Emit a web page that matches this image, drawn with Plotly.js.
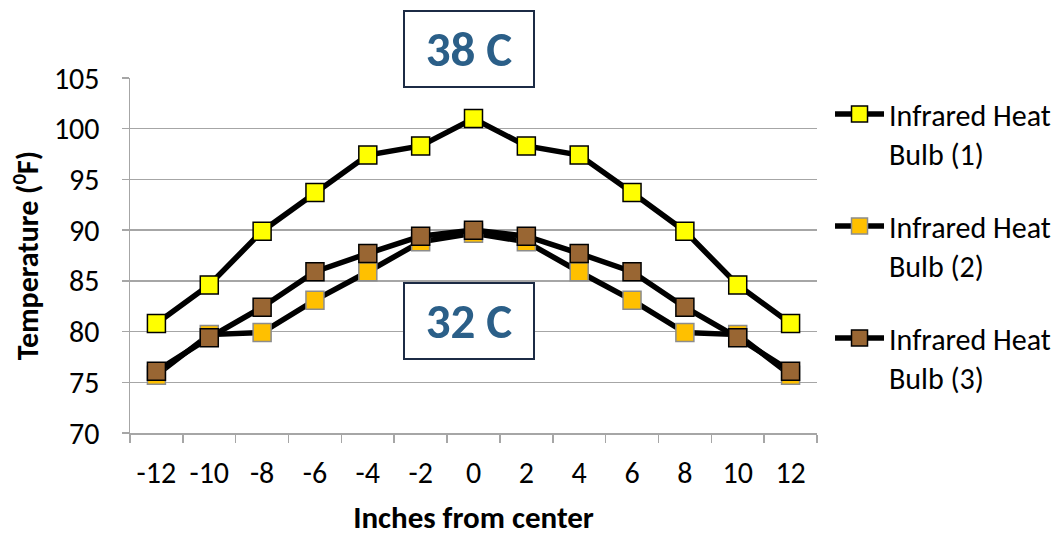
<!DOCTYPE html>
<html>
<head>
<meta charset="utf-8">
<script src="https://cdn.plot.ly/plotly-3.0.1.min.js"></script>
<style>html,body{margin:0;padding:0;background:#fff;}#chart{width:1056px;height:536px;}</style>
</head>
<body>
<div id="chart"></div>
<script>
const inches = ['-12','-10','-8','-6','-4','-2','0','2','4','6','8','10','12'];
const bulb1 = [80.8, 84.6, 89.9, 93.7, 97.4, 98.3, 101.0, 98.3, 97.4, 93.7, 89.9, 84.6, 80.8];
const bulb2 = [75.7, 79.7, 79.9, 83.1, 85.9, 88.85, 89.7, 88.85, 85.9, 83.1, 79.9, 79.7, 75.7];
const bulb3 = [76.1, 79.4, 82.4, 85.9, 87.7, 89.4, 90.0, 89.4, 87.7, 85.9, 82.4, 79.4, 76.1];
const names = ['Infrared Heat<br>Bulb (1)', 'Infrared Heat<br>Bulb (2)', 'Infrared Heat<br>Bulb (3)'];
const boxLabels = ['38 C', '32 C'];

const FONT = "Carlito, 'Liberation Sans Narrow', Lato, sans-serif";
const grid = '#A6A6A6';

function tr(y, name, fill, border, grp) {
  return {
    x: inches, y: y, name: name, type: 'scatter', mode: 'lines+markers',
    legendgroup: grp,
    line: {color: '#000000', width: 5.5},
    marker: {symbol: 'square', size: 18, color: fill, line: {color: border, width: 1.5}}
  };
}

const data = [
  tr(bulb1, names[0], '#FFFF00', '#000000', 'g1'),
  tr(bulb2, names[1], '#FFC000', '#8C8C8C', 'g2'),
  tr(bulb3, names[2], '#996633', '#000000', 'g3')
];

const layout = {
  width: 1056, height: 536,
  margin: {l: 130, r: 239, t: 78, b: 103},
  paper_bgcolor: '#ffffff', plot_bgcolor: '#ffffff',
  font: {family: FONT, size: 30, color: '#000000'},
  showlegend: true,
  legend: {
    xref: 'container', yref: 'paper',
    x: 0.786, xanchor: 'left', y: 0.972, yanchor: 'top',
    font: {family: FONT, size: 30, color: '#000'},
    traceorder: 'grouped', tracegroupgap: 31, valign: 'top', itemwidth: 49,
    bgcolor: 'rgba(0,0,0,0)'
  },
  xaxis: {
    type: 'category', range: [-0.5, 12.5],
    showgrid: false, zeroline: false,
    showline: true, linecolor: grid, linewidth: 1.5,
    ticks: 'outside', tickson: 'boundaries', ticklen: 8, tickcolor: grid, tickwidth: 1.5,
    ticklabelstandoff: 12,
    tickfont: {family: FONT, size: 30},
    title: {text: '<b>Inches from center</b>', font: {family: FONT, size: 31}, standoff: 28}
  },
  yaxis: {
    range: [70, 105], dtick: 5, tick0: 70,
    showgrid: true, gridcolor: grid, gridwidth: 1.5, zeroline: false,
    showline: true, linecolor: grid, linewidth: 1.5,
    ticks: 'outside', ticklen: 7, tickcolor: grid, tickwidth: 1.5,
    ticklabelstandoff: 16,
    tickfont: {family: FONT, size: 30},
    title: {text: '<b>Temperature (<sup>0</sup>F)</b>', font: {family: FONT, size: 30}, standoff: 6}
  },
  annotations: [
    {xref: 'paper', yref: 'paper', x: 0.4934, y: 1.082, text: '<b>' + boxLabels[0] + '</b>',
     showarrow: false, font: {family: FONT, size: 49, color: '#2B5F88'},
     bgcolor: '#ffffff', bordercolor: '#1C2B45', borderwidth: 2, width: 126, height: 72,
     xanchor: 'center', yanchor: 'middle'},
    {xref: 'paper', yref: 'paper', x: 0.4934, y: 0.3155, text: '<b>' + boxLabels[1] + '</b>',
     showarrow: false, font: {family: FONT, size: 49, color: '#2B5F88'},
     bgcolor: '#ffffff', bordercolor: '#1C2B45', borderwidth: 2, width: 126, height: 72,
     xanchor: 'center', yanchor: 'middle'}
  ]
};

Plotly.newPlot('chart', data, layout, {displayModeBar: false, staticPlot: true});
</script>
</body>
</html>
